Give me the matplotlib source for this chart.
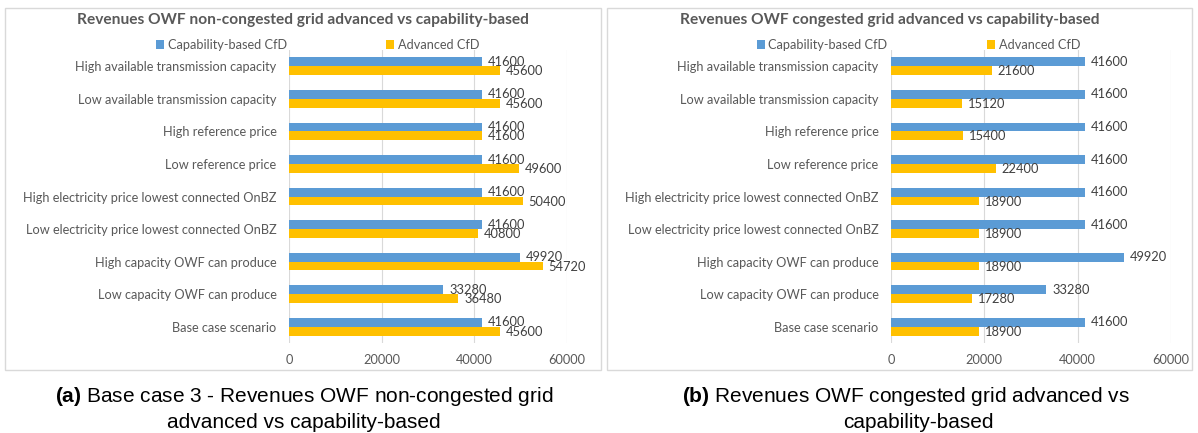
import numpy as np
import matplotlib
matplotlib.use("Agg")
import matplotlib.pyplot as plt
from matplotlib.patches import Rectangle

# scenario names, top to bottom
categories = [
    "High available transmission capacity",
    "Low available transmission capacity",
    "High reference price",
    "Low reference price",
    "High electricity price lowest connected OnBZ",
    "Low electricity price lowest connected OnBZ",
    "High capacity OWF can produce",
    "Low capacity OWF can produce",
    "Base case scenario",
]

# non-congested grid
cap_a = [41600, 41600, 41600, 41600, 41600, 41600, 49920, 33280, 41600]
adv_a = [45600, 45600, 41600, 49600, 50400, 40800, 54720, 36480, 45600]

# congested grid
cap_b = [41600, 41600, 41600, 41600, 41600, 41600, 49920, 33280, 41600]
adv_b = [21600, 15120, 15400, 22400, 18900, 18900, 18900, 17280, 18900]

x_ticks = [0, 20000, 40000, 60000]

BLUE = "#5B9BD5"
GOLD = "#FFC000"
GREY = "#595959"
FONT = "Lato"
FS = 9.2

plt.rcParams["mathtext.fontset"] = "custom"
plt.rcParams["mathtext.bf"] = "Liberation Sans:bold"
plt.rcParams["mathtext.rm"] = "Liberation Sans"

W, H = 1198, 433
fig = plt.figure(figsize=(W / 100, H / 100), dpi=100)


def px_axes(x0, y0, x1, y1):
    return fig.add_axes([x0 / W, 1 - y1 / H, (x1 - x0) / W, (y1 - y0) / H])


def frame(x0, y0, x1, y1):
    fig.patches.append(Rectangle((x0 / W, 1 - y1 / H), (x1 - x0) / W, (y1 - y0) / H,
                                 transform=fig.transFigure, fill=False,
                                 edgecolor="#D9D9D9", linewidth=1))


def draw_panel(ax, cap, adv, title, title_x, legend_x):
    y = np.arange(len(categories))
    h = 0.27
    ax.barh(y - h / 2, cap, height=h, color=BLUE, label="Capability-based CfD")
    ax.barh(y + h / 2, adv, height=h, color=GOLD, label="Advanced CfD")
    for yi, c, a in zip(y, cap, adv):
        ax.annotate(str(c), (c, yi - h / 2), xytext=(4.3, 0), textcoords="offset points",
                    va="center", ha="left", fontsize=9.3, color="#404040", family=FONT)
        ax.annotate(str(a), (a, yi + h / 2), xytext=(4.3, -0.5), textcoords="offset points",
                    va="center", ha="left", fontsize=9.3, color="#404040", family=FONT)
    ax.set_ylim(len(categories) - 0.5, -0.5)
    ax.set_xlim(0, 60000)
    ax.set_xticks(x_ticks)
    ax.set_xticklabels([str(t) for t in x_ticks], family=FONT, fontsize=FS, color=GREY)
    ax.set_yticks(y)
    ax.set_yticklabels(categories, family=FONT, fontsize=FS, color=GREY)
    ax.tick_params(length=0, pad=9)
    ax.tick_params(axis="x", pad=8)
    ax.grid(axis="x", color="#D9D9D9", linewidth=0.8)
    ax.set_axisbelow(True)
    for s in ax.spines.values():
        s.set_visible(False)
    fig.text(title_x / W, 1 - 20 / H, title, family=FONT, fontsize=11.2, fontweight="bold",
             color=GREY, ha="center", va="center")
    leg = ax.legend(loc="center left", bbox_to_anchor=(legend_x / W, 1 - 45 / H),
                    bbox_transform=fig.transFigure, ncol=2, frameon=False,
                    prop={"family": FONT, "size": FS}, handlelength=0.6, handleheight=0.6,
                    handletextpad=0.3, columnspacing=7.8, borderaxespad=0, borderpad=0)
    for t in leg.get_texts():
        t.set_color(GREY)


frame(5, 8, 601, 370)
frame(607, 8, 1192, 370)

ax1 = px_axes(289, 50, 567, 343)
draw_panel(ax1, cap_a, adv_a, "Revenues OWF non-congested grid advanced vs capability-based",
           303, 156)

ax2 = px_axes(891, 50, 1171, 343)
draw_panel(ax2, cap_b, adv_b, "Revenues OWF congested grid advanced vs capability-based",
           890, 757)

# captions
CF = 15
fig.text(304 / W, 1 - 397 / H, r"$\bf{(a)}$ Base case 3 - Revenues OWF non-congested grid",
         ha="center", va="center", fontsize=CF, family="Liberation Sans")
fig.text(304 / W, 1 - 422 / H, "advanced vs capability-based",
         ha="center", va="center", fontsize=CF, family="Liberation Sans")
fig.text(906 / W, 1 - 397 / H, r"$\bf{(b)}$ Revenues OWF congested grid advanced vs",
         ha="center", va="center", fontsize=CF, family="Liberation Sans")
fig.text(918 / W, 1 - 422 / H, "capability-based",
         ha="center", va="center", fontsize=CF, family="Liberation Sans")

fig.savefig("out.png", dpi=100)
